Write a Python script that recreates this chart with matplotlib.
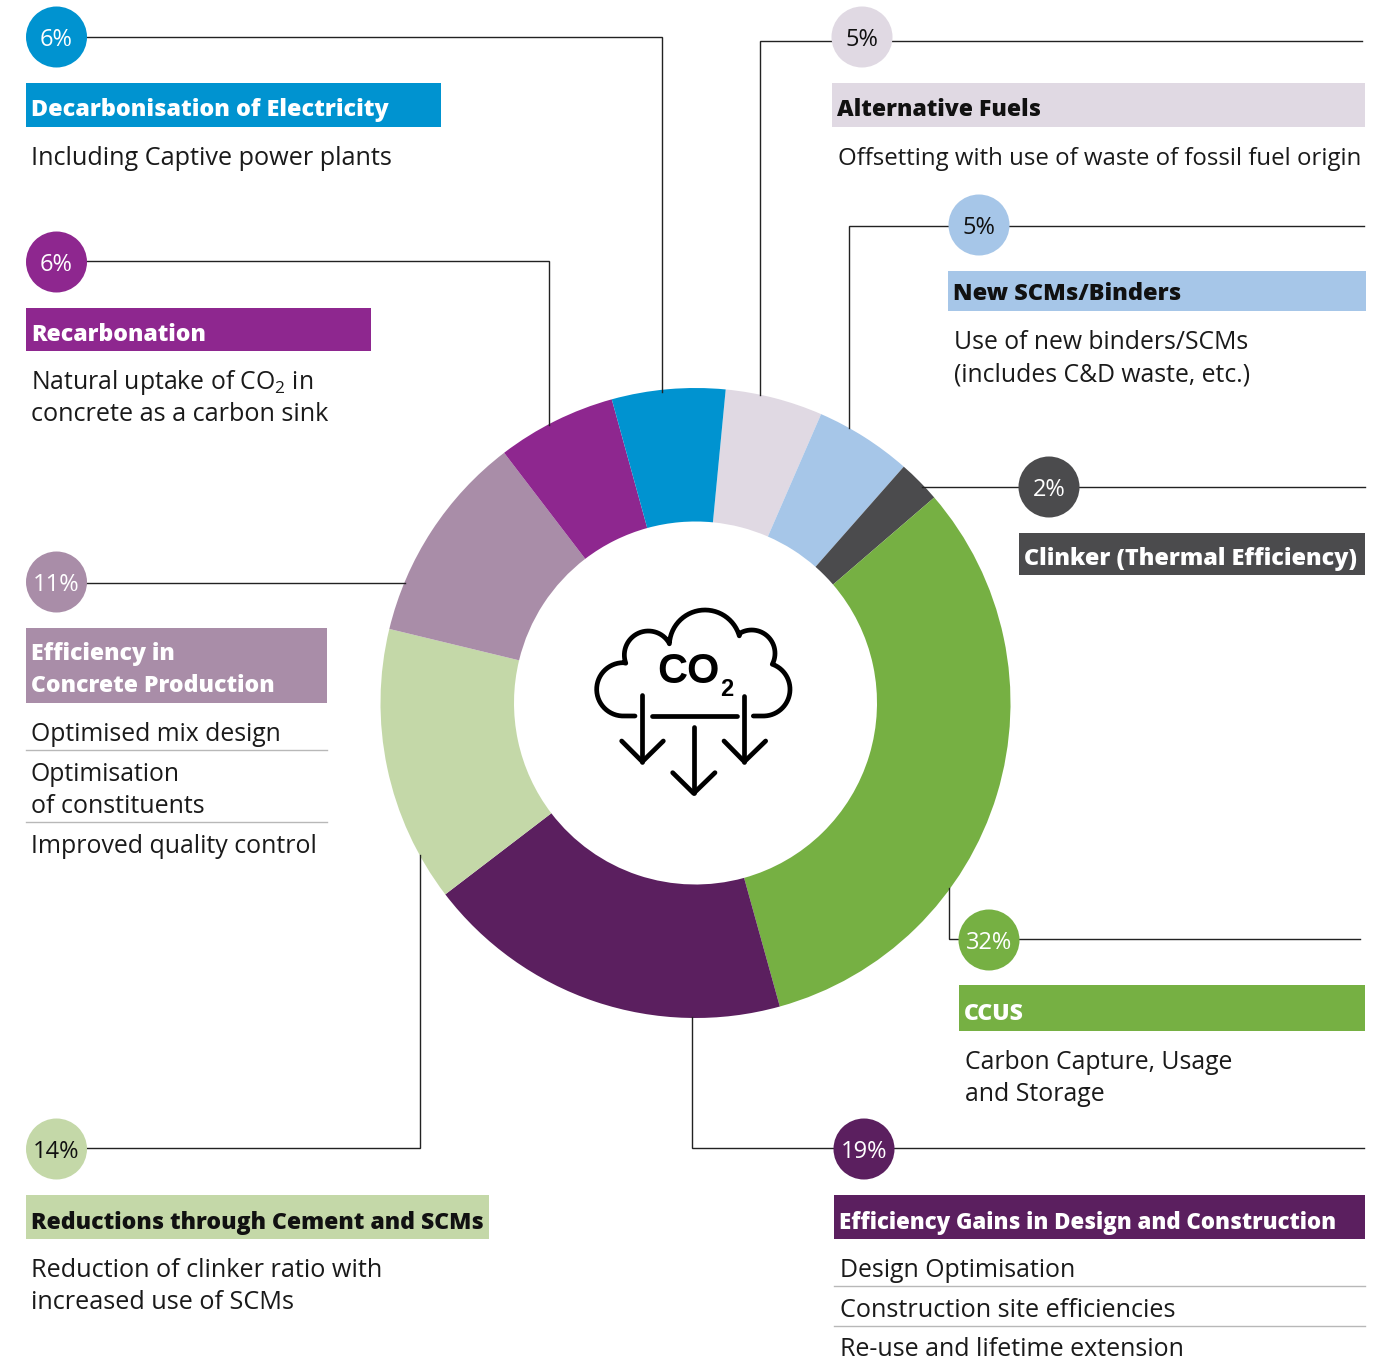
import numpy as np
import matplotlib
matplotlib.use("Agg")
import matplotlib.pyplot as plt
from matplotlib.patches import Circle, Rectangle

# data, clockwise from the top of the ring
categories = ["Alternative Fuels", "New SCMs/Binders", "Clinker (Thermal Efficiency)", "CCUS",
              "Efficiency Gains in Design and Construction", "Reductions through Cement and SCMs",
              "Efficiency in\nConcrete Production", "Recarbonation", "Decarbonisation of Electricity"]
values = [5, 5, 2, 32, 19, 14, 11, 6, 6]
# slice sizes as drawn in the picture, they differ a little from the printed labels
slice_sizes = [5.0, 4.97, 2.19, 32.0, 18.92, 14.17, 10.83, 6.11, 5.81]
colors = ["#e0d9e3", "#a6c6e8", "#4b4b4d", "#76b043", "#5b1f5f", "#c4d8a8", "#a98da8", "#8e278f", "#0093d0"]
text_colors = ["#111111", "#111111", "white", "white", "white", "#111111", "white", "white", "white"]

plt.rcParams["font.family"] = ["Open Sans", "DejaVu Sans"]
plt.rcParams["mathtext.fontset"] = "custom"
plt.rcParams["mathtext.rm"] = "Open Sans"
plt.rcParams["mathtext.default"] = "regular"

fig = plt.figure(figsize=(13.82, 13.58), dpi=100)
ax = fig.add_axes([0, 0, 1, 1])

# ring
ax.pie(slice_sizes, colors=colors, center=(695.5, 703), radius=315, startangle=-84.5, counterclock=True,
       wedgeprops={"width": 133.5, "linewidth": 0}, frame=True)
ax.set_xlim(0, 1382)
ax.set_ylim(1358, 0)
ax.axis("off")

# leader lines
lines = [
    ([832, 760, 760], [41, 41, 395]), ([892, 1362], [41, 41]),
    ([949, 849, 849], [226, 226, 428]), ([1009, 1364], [226, 226]),
    ([1019, 922], [487, 487]), ([1079, 1365], [487, 487]),
    ([959, 949, 949], [939, 939, 888]), ([1019, 1360], [939, 939]),
    ([834, 692, 692], [1148, 1148, 1017]), ([894, 1364], [1148, 1148]),
    ([86, 420, 420], [1148, 1148, 855]),
    ([86, 405], [583, 583]),
    ([86, 549, 549], [261, 261, 425]),
    ([86, 662, 662], [37, 37, 392]),
]
for xs, ys in lines:
    ax.plot(xs, ys, color="#222222", lw=1.0, solid_joinstyle="miter", zorder=1)

# percentage bubbles
bubble_xy = [(862, 37), (979, 225), (1049, 487), (989, 940), (864, 1149), (56.5, 1149), (56.5, 582), (56.5, 262), (56.5, 37)]
for (x, y), v, c, tc in zip(bubble_xy, values, colors, text_colors):
    ax.add_patch(Circle((x, y), 30.5, color=c, lw=0, zorder=3))
    ax.text(x, y + 3, f"{v}%", color=tc, fontsize=17, ha="center", va="center", zorder=4)

# coloured header bands: x0, x1, y0, y1, text x, baseline, font size
bands = [
    (832, 1365, 83, 127, 837, [116], 16.6),
    (948, 1366, 271, 311, 953, [300], 16.9),
    (1019, 1365, 533, 575, 1024, [565], 16.8),
    (959, 1365, 985, 1031, 964, [1020], 16.6),
    (834, 1365, 1195, 1239, 839, [1229], 16.0),
    (26, 489, 1195, 1239, 31, [1229], 16.6),
    (26, 327, 628, 703, 31, [660, 692], 16.6),
    (26, 371, 308, 351, 31, [341], 16.6),
    (26, 441, 83, 127, 31, [116], 16.8),
]
for (x0, x1, y0, y1, tx, bases, size), name, c, tc in zip(bands, categories, colors, text_colors):
    ax.add_patch(Rectangle((x0, y0), x1 - x0, y1 - y0, color=c, lw=0, zorder=2))
    for base, part in zip(bases, name.split("\n")):
        ax.text(tx, base, part, color=tc, fontsize=size, fontweight=800, va="baseline", zorder=4)

# body text
body = [
    (31, 165, "Including Captive power plants", 18.2),
    (838, 165, "Offsetting with use of waste of fossil fuel origin", 17.3),
    (31, 389, "Natural uptake of CO$_{2}$ in", 17.8),
    (31, 421, "concrete as a carbon sink", 18.2),
    (954, 349, "Use of new binders/SCMs", 17.8),
    (954, 381, "(includes C&D waste, etc.)", 17.8),
    (31, 741, "Optimised mix design", 17.8),
    (31, 781, "Optimisation", 17.8),
    (31, 813, "of constituents", 18.0),
    (31, 853, "Improved quality control", 17.9),
    (965, 1069, "Carbon Capture, Usage", 17.8),
    (965, 1101, "and Storage", 17.9),
    (31, 1277, "Reduction of clinker ratio with", 18.2),
    (31, 1309, "increased use of SCMs", 18.2),
    (840, 1277, "Design Optimisation", 17.9),
    (840, 1317, "Construction site efficiencies", 18.2),
    (840, 1356, "Re-use and lifetime extension", 18.0),
]
for x, y, s, size in body:
    ax.text(x, y, s, color="#1a1a1a", fontsize=size, va="baseline", zorder=4)

# thin separators
for x0, x1, y in [(26, 327, 750), (26, 327, 822), (834, 1365, 1286), (834, 1365, 1326)]:
    ax.plot([x0, x1], [y, y], color="#b8b8b8", lw=1.0, zorder=1)


# centre icon, drawn in zoomed-crop coordinates
def to_px(zx, zy):
    return 570 + np.asarray(zx) / 3, 590 + np.asarray(zy) / 3


def arc(cx, cy, r, a1, a2):
    t = np.radians(np.linspace(a1, a2, 60))
    return cx + r * np.cos(t), cy + r * np.sin(t)


cloud = [arc(160, 298, 80, 90, 270), arc(235, 195, 72, 160, 328), arc(405, 167, 107, 183, 344),
         arc(545, 190, 70, 240, 388), arc(580, 298, 80, 292, 450)]
cx = np.concatenate([[195]] + [c[0] for c in cloud] + [[550]])
cy = np.concatenate([[378]] + [c[1] for c in cloud] + [[378]])
icon_lines = [
    (cx, cy),
    ([245, 500], [378, 378]),
    ([217, 217], [315, 515]), ([155, 217, 280], [453, 515, 453]),
    ([523, 523], [318, 515]), ([462, 523, 587], [453, 515, 453]),
    ([371, 371], [412, 610]), ([308, 371, 435], [548, 610, 548]),
]
for zx, zy in icon_lines:
    px, py = to_px(zx, zy)
    ax.plot(px, py, color="black", lw=3.4, solid_capstyle="round", solid_joinstyle="round", zorder=5)
ax.text(688, 672, "CO", family="Liberation Sans", fontweight="bold", fontsize=30, ha="center", va="center", zorder=5)
ax.text(727, 689, "2", family="Liberation Sans", fontweight="bold", fontsize=17, ha="center", va="center", zorder=5)

fig.savefig("out.png", dpi=100, facecolor="white")
